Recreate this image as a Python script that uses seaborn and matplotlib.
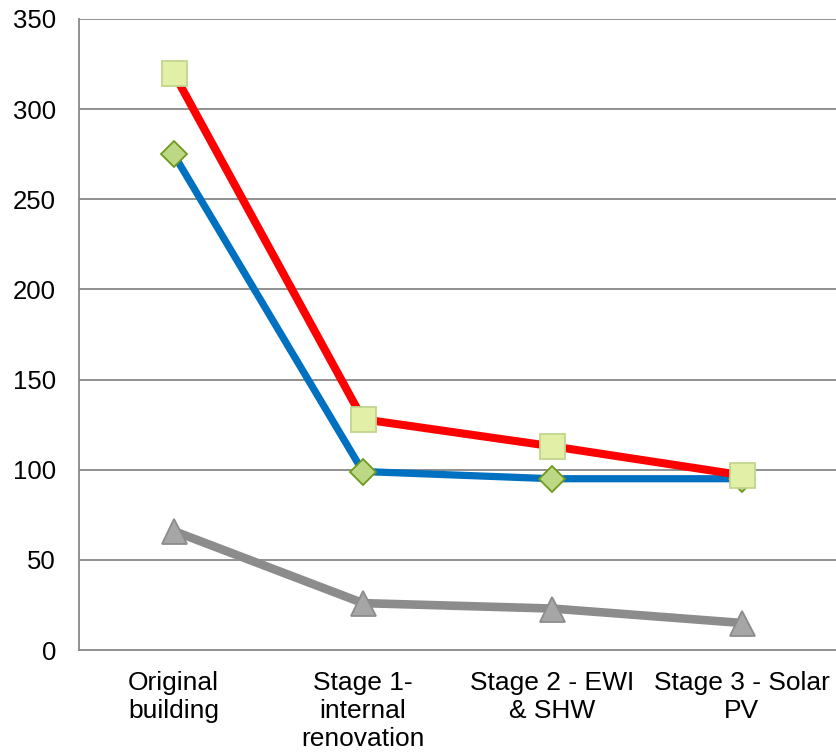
import matplotlib
matplotlib.use("Agg")
import matplotlib.pyplot as plt
import seaborn as sns
import pandas as pd
import numpy as np

categories = ["Original\nbuilding", "Stage 1-\ninternal\nrenovation",
              "Stage 2 - EWI\n& SHW", "Stage 3 - Solar\nPV"]
red_series = [320, 128, 113, 97]
blue_series = [275, 99, 95, 95]
gray_series = [66, 26, 23, 15]
y_ticks = [0, 50, 100, 150, 200, 250, 300, 350]

sns.set_theme(style="white")
plt.rcParams["font.family"] = ["Liberation Sans", "DejaVu Sans"]

fig = plt.figure(figsize=(8.37, 7.56), dpi=100)
ax = fig.add_axes([79 / 837, 106 / 756, 1 - 79 / 837 - 0.001, (650 - 19) / 756])

xpos = np.arange(len(categories))
grid_col = "#888888"

for v in y_ticks[1:]:
    ax.axhline(v, color=grid_col, lw=1.3, zorder=0)

series = [
    (gray_series, "#8C8C8C", 6.2, "^", 18, "#A6A6A6", "#8C8C8C"),
    (blue_series, "#0070C0", 5.2, "D", 13.5, "#BCD884", "#6F9A1E"),
    (red_series, "#FF0000", 5.8, "s", 18, "#E2EFA6", "#C2D68E"),
]
for vals, col, lw, mk, ms, mfc, mec in series:
    df = pd.DataFrame({"x": xpos, "y": vals})
    sns.lineplot(data=df, x="x", y="y", ax=ax, color=col, lw=lw,
                 marker=mk, markersize=ms, markerfacecolor=mfc,
                 markeredgecolor=mec, markeredgewidth=1.3, zorder=3)

ax.set_xlim(-0.5, 3.5)
ax.set_ylim(0, 350)
ax.set_yticks(y_ticks)
ax.set_yticklabels([str(v) for v in y_ticks], fontsize=18.5, color="#000000")
ax.set_xticks(xpos)
ax.set_xticklabels(categories, fontsize=19, color="#000000", linespacing=1.22)
ax.tick_params(axis="x", which="major", length=0, pad=15)
ax.set_xticks(np.arange(-0.5, 4.0, 1.0), minor=True)
ax.tick_params(axis="x", which="minor", length=7, width=1.3, color=grid_col,
               direction="out")
ax.tick_params(axis="y", which="major", length=8, width=1.3, color=grid_col,
               direction="out", pad=8.5)
ax.set_xlabel("")
ax.set_ylabel("")

for s in ["top", "right"]:
    ax.spines[s].set_visible(False)
for s in ["left", "bottom"]:
    ax.spines[s].set_color(grid_col)
    ax.spines[s].set_linewidth(1.3)

fig.savefig("out.png", dpi=100)
